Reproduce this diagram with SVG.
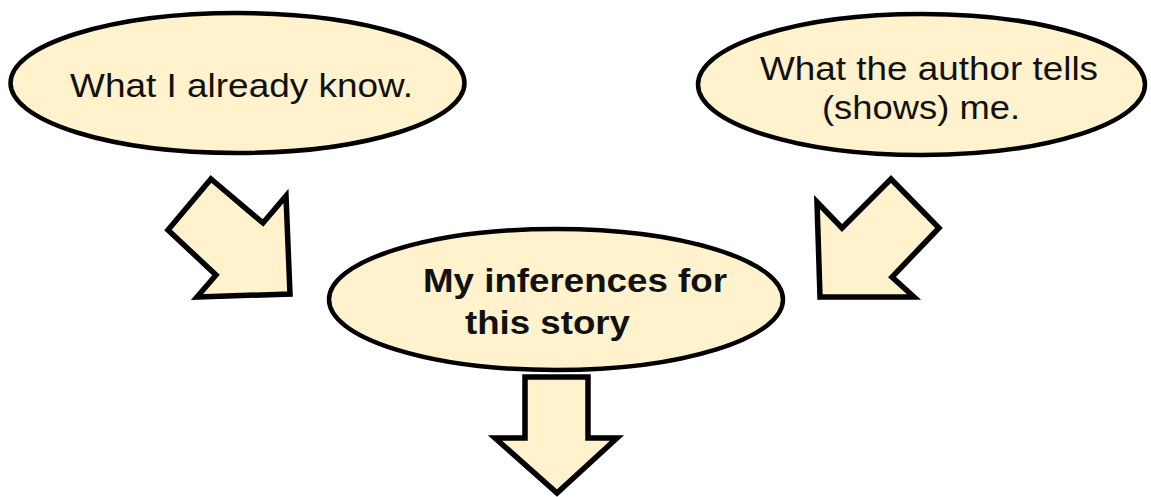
<svg xmlns="http://www.w3.org/2000/svg" width="1151" height="497" viewBox="0 0 1151 497">
  <style>
    .node { fill: #fff2cc; stroke: #000; stroke-width: 4.5; }
    .arrow { fill: #fff2cc; stroke: #000; stroke-width: 5.5; stroke-linejoin: miter; }
    .lbl { font-family: "Liberation Sans", Arial, sans-serif; font-size: 34px; fill: #111; }
    .bold { font-weight: bold; }
  </style>
  <rect width="1151" height="497" fill="#ffffff"/>
  <g id="connectors">
    <polygon id="arrow-left" class="arrow" points="211,179 263,223 286,196 290,294 197,297 216,275 168,230"/>
    <polygon id="arrow-right" class="arrow" points="817,202 842,228 891,179 939,228 892,277 914,297 820,297"/>
    <polygon id="arrow-down" class="arrow" points="525,377 588,377 588,438 617,438 557,493 495,438 525,438"/>
  </g>
  <g id="node-know">
    <ellipse class="node" cx="237.5" cy="83" rx="227" ry="70"/>
    <text class="lbl" x="70" y="97" textLength="343" lengthAdjust="spacingAndGlyphs">What I already know.</text>
  </g>
  <g id="node-author">
    <ellipse class="node" cx="921.5" cy="84.5" rx="223.5" ry="70.5"/>
    <text class="lbl" x="760" y="80" textLength="338" lengthAdjust="spacingAndGlyphs">What the author tells</text>
    <text class="lbl" x="822" y="119" textLength="198" lengthAdjust="spacingAndGlyphs">(shows) me.</text>
  </g>
  <g id="node-inferences">
    <ellipse class="node" cx="556" cy="299.5" rx="227" ry="70.5"/>
    <text class="lbl bold" x="423" y="292" textLength="304" lengthAdjust="spacingAndGlyphs">My inferences for</text>
    <text class="lbl bold" x="465" y="334" textLength="165" lengthAdjust="spacingAndGlyphs">this story</text>
  </g>
</svg>
